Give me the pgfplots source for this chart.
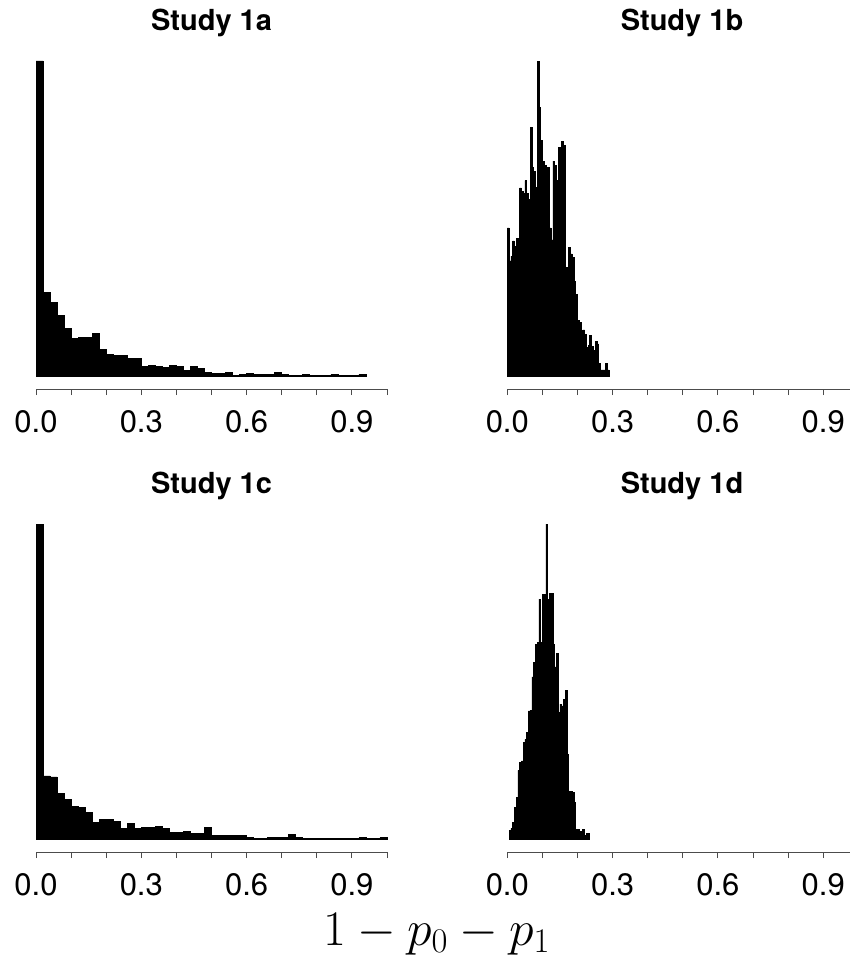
\documentclass[border=0pt]{standalone}
\usepackage[no-math]{fontspec}
\setmainfont{TeX Gyre Heros}
\usepackage{pgfplots}
\pgfplotsset{compat=1.18}

\pgfplotsset{
 hist/.style={
  scale only axis, width=175.5pt, height=164pt,
  xmin=0, xmax=1,
  axis y line=none, axis x line*=bottom,
  x axis line style={-, black!70, line width=0.5pt},
  xtick={0,0.3,0.6,0.9}, xticklabels={0.0,0.3,0.6,0.9},
  minor xtick={0.1,0.2,0.4,0.5,0.7,0.8,1},
  xtick align=outside, major tick length=3pt, minor tick length=3pt,
  every tick/.style={black!70, line width=0.5pt},
  every minor tick/.style={black!70, line width=0.5pt},
  xticklabel style={font=\fontsize{15.5}{18}\selectfont, yshift=-4pt},
  clip=false,
 },
 bars/.style={fill=black, draw=black, line width=0.3pt, const plot, mark=none},
}
\begin{document}
\begin{tikzpicture}
\useasboundingbox (0,0) rectangle (425pt,-479pt);

% Study 1a
\begin{axis}[hist, at={(18pt,-194.5pt)}, anchor=south west, ymin=-37.9, ymax=947]
\addplot[bars] coordinates {(0,947)(0.02,253)(0.04,223)(0.06,182)(0.08,145)(0.10,113)(0.12,117)(0.14,117)(0.16,128)(0.18,80)(0.20,67)(0.22,63)(0.24,63)(0.26,54)(0.28,54)(0.30,30)(0.32,33)(0.34,30)(0.36,27)(0.38,33)(0.40,30)(0.42,18)(0.44,29)(0.46,24)(0.48,12)(0.50,9)(0.52,9)(0.54,12)(0.56,3)(0.58,6)(0.60,9)(0.62,6)(0.64,6)(0.66,6)(0.68,11)(0.70,6)(0.72,3)(0.74,3)(0.76,6)(0.78,3)(0.80,3)(0.82,3)(0.84,6)(0.86,3)(0.88,3)(0.90,3)(0.92,6)(0.94,6)} \closedcycle;
\end{axis}

% Study 1b
\begin{axis}[hist, at={(253.65pt,-194.5pt)}, anchor=south west, ymin=-38.8, ymax=970]
\addplot[bars] coordinates {(0,457)(0.005,355)(0.010,370)(0.015,417)(0.020,400)(0.025,425)(0.030,410)(0.035,580)(0.040,570)(0.045,562)(0.050,602)(0.055,562)(0.060,545)(0.065,765)(0.070,642)(0.075,630)(0.080,582)(0.085,970)(0.090,827)(0.095,725)(0.100,662)(0.105,650)(0.110,520)(0.115,642)(0.120,457)(0.125,420)(0.130,662)(0.135,650)(0.140,602)(0.145,705)(0.150,500)(0.155,722)(0.160,710)(0.165,335)(0.170,290)(0.175,397)(0.180,377)(0.185,365)(0.190,293)(0.195,253)(0.200,173)(0.205,165)(0.210,113)(0.215,143)(0.220,128)(0.225,88)(0.230,95)(0.235,127)(0.240,93)(0.245,80)(0.250,108)(0.255,100)(0.260,40)(0.265,20)(0.270,20)(0.275,20)(0.280,40)(0.285,20)(0.290,20)} \closedcycle;
\end{axis}

% Study 1c
\begin{axis}[hist, at={(18pt,-426pt)}, anchor=south west, ymin=-37.8, ymax=945]
\addplot[bars] coordinates {(0,945)(0.02,190)(0.04,187)(0.06,138)(0.08,120)(0.10,98)(0.12,95)(0.14,82)(0.16,50)(0.18,60)(0.20,60)(0.22,53)(0.24,32)(0.26,48)(0.28,32)(0.30,37)(0.32,35)(0.34,39)(0.36,33)(0.38,20)(0.40,20)(0.42,24)(0.44,18)(0.46,18)(0.48,35)(0.50,12)(0.52,12)(0.54,12)(0.56,12)(0.58,12)(0.60,7)(0.62,3)(0.64,3)(0.66,7)(0.68,7)(0.70,7)(0.72,15)(0.74,5)(0.76,3)(0.78,2)(0.80,2)(0.82,2)(0.84,2)(0.86,2)(0.88,2)(0.90,2)(0.92,5)(0.94,2)(0.96,2)(0.98,5)(1.00,5)} \closedcycle;
\end{axis}

% Study 1d
\begin{axis}[hist, at={(253.65pt,-426pt)}, anchor=south west, ymin=-37.8, ymax=945]
\addplot[bars] coordinates {(0.005,28)(0.010,33)(0.015,50)(0.020,95)(0.025,127)(0.030,207)(0.035,230)(0.040,235)(0.045,290)(0.050,300)(0.055,320)(0.060,385)(0.065,387)(0.070,487)(0.075,530)(0.080,585)(0.085,590)(0.090,720)(0.095,590)(0.100,735)(0.105,735)(0.110,945)(0.115,720)(0.120,737)(0.125,737)(0.130,585)(0.135,517)(0.140,557)(0.145,380)(0.150,405)(0.155,400)(0.160,420)(0.165,447)(0.170,255)(0.175,145)(0.180,145)(0.185,140)(0.190,110)(0.195,30)(0.200,30)(0.205,25)(0.210,13)(0.215,30)(0.220,13)(0.225,17)(0.230,17)(0.235,17)} \closedcycle;
\end{axis}

\node[font=\bfseries\fontsize{14.5}{17}\selectfont, anchor=base] at (105.75pt,-15pt) {Study 1a};
\node[font=\bfseries\fontsize{14.5}{17}\selectfont, anchor=base] at (341pt,-15pt) {Study 1b};
\node[font=\bfseries\fontsize{14.5}{17}\selectfont, anchor=base] at (105.75pt,-246.5pt) {Study 1c};
\node[font=\bfseries\fontsize{14.5}{17}\selectfont, anchor=base] at (341pt,-246.5pt) {Study 1d};
\node[font=\fontsize{23.5}{28}\selectfont, anchor=base, inner sep=1pt] at (218.5pt,-472.5pt) {$1-p_0-p_1$};
\end{tikzpicture}
\end{document}
